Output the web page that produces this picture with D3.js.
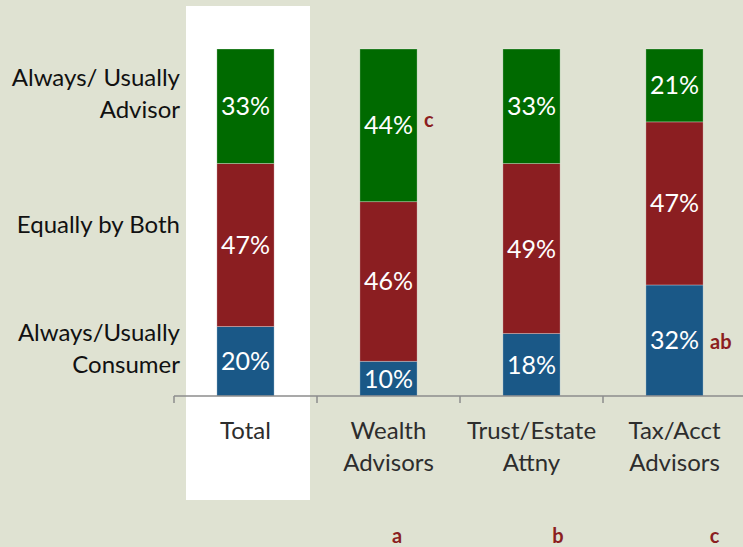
<!DOCTYPE html>
<html>
<head>
<meta charset="utf-8">
<script src="https://cdn.jsdelivr.net/npm/d3@7"></script>
<style>
  html, body { margin: 0; padding: 0; background: #dfe2d2; }
  svg { display: block; }
</style>
</head>
<body>
<svg id="chart" width="743" height="547"></svg>
<script>
// categories along the x axis (each label may wrap to two lines)
const categories = ["Total", "Wealth Advisors", "Trust/Estate Attny", "Tax/Acct Advisors"];
const categoryLines = [["Total"], ["Wealth", "Advisors"], ["Trust/Estate", "Attny"], ["Tax/Acct", "Advisors"]];

// stacked series, bottom to top
const seriesKeys = ["consumer", "both", "advisor"];
const seriesLabels = [["Always/Usually", "Consumer"], ["Equally by Both"], ["Always/ Usually", "Advisor"]];
const consumer = [20, 10, 18, 32];
const both = [47, 46, 49, 47];
const advisor = [33, 44, 33, 21];

// significance letters
const sigInBar = [
	{ category: "Wealth Advisors", key: "advisor", text: "c" },
	{ category: "Tax/Acct Advisors", key: "consumer", text: "ab" }
];
const sigBottom = ["", "a", "b", "c"];

const colors = { consumer: "#1a5887", both: "#8b1e21", advisor: "#006a00" };
const sigColor = "#8b1e21";

const svg = d3.select("#chart");
const font = "Lato, 'Open Sans', sans-serif";

const x = d3.scaleBand().domain(categories).range([174, 746]);
const y = d3.scaleLinear().domain([0, 100]).range([396, 49]);
const barW = x.bandwidth() * 0.4;

const rows = categories.map(function(c, i) {
	return { category: c, consumer: consumer[i], both: both[i], advisor: advisor[i] };
});
const stacked = d3.stack().keys(seriesKeys)(rows);

// white highlight behind the Total column
svg.append("rect")
	.attr("x", x("Total") + 12)
	.attr("y", 6)
	.attr("width", x.bandwidth() - 19)
	.attr("height", 494)
	.attr("fill", "#ffffff");

// bars
const layers = svg.selectAll(".layer")
	.data(stacked)
	.enter().append("g")
	.attr("class", "layer")
	.attr("fill", function(d) { return colors[d.key]; });

layers.selectAll("rect")
	.data(function(d) { return d; })
	.enter().append("rect")
	.attr("x", function(d) { return x(d.data.category) + (x.bandwidth() - barW) / 2; })
	.attr("y", function(d) { return y(d[1]); })
	.attr("width", barW)
	.attr("height", function(d) { return y(d[0]) - y(d[1]); })
	.attr("stroke", "rgba(255,255,255,0.35)")
	.attr("stroke-width", 0.8);

// value labels
layers.selectAll("text")
	.data(function(d) { return d; })
	.enter().append("text")
	.attr("x", function(d) { return x(d.data.category) + x.bandwidth() / 2; })
	.attr("y", function(d) { return (y(d[0]) + y(d[1])) / 2; })
	.attr("dy", "0.36em")
	.attr("text-anchor", "middle")
	.attr("fill", "#ffffff")
	.style("font-family", font)
	.style("font-size", "25px")
	.text(function(d) { return (d[1] - d[0]) + "%"; });

// x axis
const axis = svg.append("g").attr("transform", "translate(0," + y(0) + ")");
axis.append("line")
	.attr("x1", 174).attr("x2", 743)
	.attr("stroke", "#8c8c8c").attr("stroke-width", 1.5);
axis.selectAll(".tick")
	.data(categories)
	.enter().append("line")
	.attr("x1", function(d) { return x(d); })
	.attr("x2", function(d) { return x(d); })
	.attr("y1", 0).attr("y2", 7)
	.attr("stroke", "#8c8c8c").attr("stroke-width", 1.5);

// category labels
const catText = svg.selectAll(".cat")
	.data(categories)
	.enter().append("text")
	.attr("class", "cat")
	.attr("text-anchor", "middle")
	.attr("fill", "#2d2d2d")
	.style("font-family", font)
	.style("font-size", "24px");
catText.selectAll("tspan")
	.data(function(d, i) { return categoryLines[i].map(function(t) { return { t: t, c: d }; }); })
	.enter().append("tspan")
	.attr("x", function(d) { return x(d.c) + x.bandwidth() / 2; })
	.attr("y", function(d, j) { return y(0) + 43 + j * 32; })
	.text(function(d) { return d.t; });

// series labels on the left, beside the Total bar
const totalStack = stacked.map(function(s) { return s[0]; });
const rowText = svg.selectAll(".row")
	.data(seriesKeys)
	.enter().append("text")
	.attr("class", "row")
	.attr("text-anchor", "end")
	.attr("fill", "#111111")
	.style("font-family", font)
	.style("font-size", "24px");
rowText.selectAll("tspan")
	.data(function(d, i) {
		const mid = (y(totalStack[i][0]) + y(totalStack[i][1])) / 2;
		const lines = seriesLabels[i];
		const top = lines.length > 1 ? mid - 20 : mid - 12;
		return lines.map(function(t, j) { return { t: t, yy: top + j * 32 }; });
	})
	.enter().append("tspan")
	.attr("x", 180)
	.attr("y", function(d) { return d.yy; })
	.text(function(d) { return d.t; });

// significance letters next to bars
svg.selectAll(".sig")
	.data(sigInBar)
	.enter().append("text")
	.attr("class", "sig")
	.attr("x", function(d) { return x(d.category) + (x.bandwidth() + barW) / 2 + 7; })
	.attr("y", function(d) {
		const s = stacked[seriesKeys.indexOf(d.key)][categories.indexOf(d.category)];
		return (y(s[0]) + y(s[1])) / 2;
	})
	.attr("dy", function(d) { return d.key === "advisor" ? "0.1em" : "0.45em"; })
	.attr("fill", sigColor)
	.style("font-family", font)
	.style("font-weight", "bold")
	.style("font-size", "20px")
	.text(function(d) { return d.text; });

// significance letters at the bottom
const bottomShift = [0, 0.56, 0.685, 0.78];
svg.selectAll(".sigb")
	.data(sigBottom)
	.enter().append("text")
	.attr("class", "sigb")
	.attr("x", function(d, i) { return x(categories[i]) + x.bandwidth() * bottomShift[i]; })
	.attr("y", 543)
	.attr("text-anchor", "middle")
	.attr("fill", sigColor)
	.style("font-family", font)
	.style("font-weight", "bold")
	.style("font-size", "20px")
	.text(function(d) { return d; });
</script>
</body>
</html>
